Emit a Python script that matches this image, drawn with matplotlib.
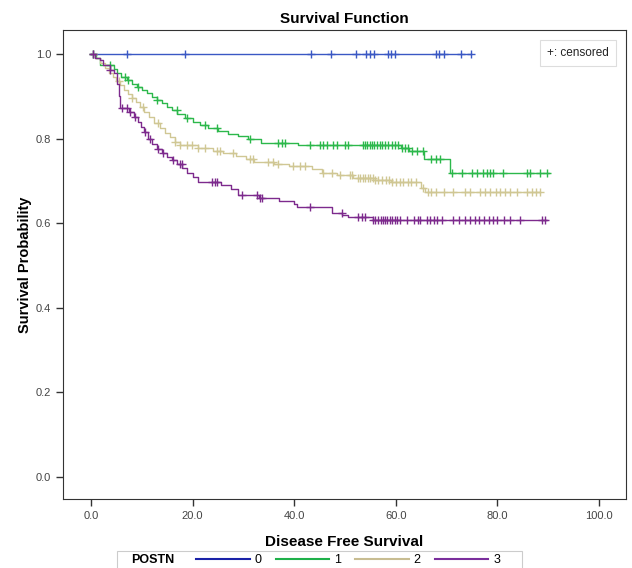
import numpy as np
import matplotlib
matplotlib.use('Agg')
import matplotlib.pyplot as plt
from matplotlib.lines import Line2D
from matplotlib.patches import Rectangle
from matplotlib.ticker import FormatStrFormatter

plt.rcParams['font.family'] = ['Liberation Sans', 'DejaVu Sans']

groups = ['0', '1', '2', '3']
colors = ['#3a58c4', '#2cb84b', '#d0c794', '#7d2a8d']
legend_colors = ['#1a22a8', '#1fb04a', '#c8bd92', '#7a2e9c']

# event times and survival after each step
t0 = []
s0 = []
end0 = 74.8
c0 = [0.5, 7.1, 18.5, 43.3, 47.3, 52.2, 54.2, 54.9, 55.8, 58.4, 59.1, 59.8,
      67.9, 68.5, 69.5, 72.8, 74.8]

t1 = [1.0, 1.8, 4.5, 5.1, 6.0, 7.0, 8.0, 9.0, 10.0, 11.0, 12.0, 13.0, 14.0,
      15.0, 16.0, 17.0, 18.5, 20.0, 21.5, 23.0, 25.0, 27.0, 29.0, 31.0, 33.5,
      40.7, 61.0, 62.5, 65.5, 70.7]
s1 = [0.99, 0.974, 0.965, 0.955, 0.946, 0.938, 0.930, 0.922, 0.915, 0.907,
      0.899, 0.891, 0.884, 0.876, 0.868, 0.858, 0.849, 0.840, 0.832, 0.825,
      0.818, 0.812, 0.806, 0.800, 0.790, 0.784, 0.777, 0.770, 0.752, 0.720]
end1 = 90.2
c1 = [0.5, 3.7, 6.7, 7.3, 9.3, 13.0, 16.9, 18.9, 22.4, 24.8, 31.3, 36.8,
      37.6, 38.2, 43.1, 45.0, 45.7, 46.5, 47.6, 48.4, 50.0, 50.6,
      53.5, 54.0, 54.4, 54.9, 55.3, 55.8, 56.3, 56.8, 57.3, 57.8, 58.5, 59.2,
      59.8, 60.4, 61.2, 61.8, 62.4, 63.2, 64.2, 65.4, 67.0, 68.0, 68.7,
      71.0, 73.0, 75.0, 76.0, 77.2, 78.0, 78.5, 79.1, 81.1, 85.8, 86.4, 88.4,
      89.8]

t2 = [0.8, 1.8, 2.8, 3.6, 4.3, 5.0, 5.7, 6.5, 7.2, 8.0, 8.8, 9.6, 10.5, 11.5,
      12.5, 13.5, 14.5, 15.5, 16.5, 17.5, 21.0, 24.0, 26.0, 28.5, 30.5, 32.0,
      36.0, 39.0, 43.5, 45.5, 48.5, 51.5, 56.0, 59.0, 65.0, 65.8]
s2 = [0.99, 0.978, 0.966, 0.955, 0.946, 0.936, 0.926, 0.915, 0.905, 0.896,
      0.886, 0.876, 0.864, 0.851, 0.838, 0.826, 0.814, 0.803, 0.793, 0.784,
      0.778, 0.772, 0.766, 0.760, 0.752, 0.744, 0.740, 0.735, 0.728, 0.720,
      0.714, 0.707, 0.702, 0.697, 0.684, 0.674]
end2 = 88.4
c2 = [0.5, 5.5, 8.1, 10.2, 13.2, 16.5, 17.5, 18.9, 19.9, 21.1, 22.4, 24.8,
      25.4, 28.0, 31.3, 31.9, 34.8, 35.8, 36.8, 39.8, 41.1, 42.1, 45.7, 47.5,
      49.0, 51.0, 51.4, 52.5, 53.0, 53.5, 54.0, 54.5, 55.0, 55.5, 56.0, 56.5,
      57.2, 58.0, 58.6, 59.3, 60.0, 60.8, 61.5, 62.3, 63.0, 64.0, 65.4, 66.3,
      67.0, 68.0, 69.5, 71.3, 73.6, 74.6, 76.6, 77.5, 78.5, 79.7, 80.5, 81.5,
      82.5, 83.8, 85.8, 86.8, 87.5, 88.4]

t3 = [0.8, 1.8, 2.4, 3.7, 4.6, 5.1, 5.5, 5.8, 7.5, 8.5, 9.2, 9.8, 10.5, 11.2,
      12.0, 13.0, 14.0, 15.0, 16.0, 17.0, 18.0, 19.0, 20.0, 21.0, 25.5, 27.5,
      29.0, 33.0, 37.0, 40.0, 40.6, 47.5, 49.5, 50.5, 55.5]
s3 = [0.99, 0.986, 0.974, 0.962, 0.955, 0.930, 0.900, 0.872, 0.863, 0.852,
      0.840, 0.828, 0.815, 0.800, 0.788, 0.776, 0.766, 0.757, 0.749, 0.740,
      0.730, 0.720, 0.710, 0.698, 0.690, 0.680, 0.667, 0.660, 0.652, 0.646,
      0.638, 0.625, 0.620, 0.615, 0.607]
end3 = 89.8
c3 = [0.5, 3.7, 6.1, 7.1, 7.7, 8.7, 10.6, 11.6, 13.2, 14.2, 16.1, 17.5, 17.9,
      23.8, 24.4, 24.8, 29.7, 32.7, 33.3, 33.7, 43.1, 49.4, 52.5, 53.3, 54.0,
      55.5, 56.0, 56.5, 57.0, 57.4, 57.8, 58.3, 58.8, 59.3, 59.8, 60.3, 60.8,
      62.2, 63.6, 64.4, 64.8, 66.1, 66.8, 67.5, 68.2, 69.1, 71.3, 72.5, 73.6,
      74.6, 75.5, 76.4, 77.4, 78.4, 79.1, 80.0, 81.3, 82.5, 84.4, 88.8, 89.4]

all_t = [t0, t1, t2, t3]
all_s = [s0, s1, s2, s3]
all_end = [end0, end1, end2, end3]
all_c = [c0, c1, c2, c3]

fig = plt.figure(figsize=(6.32, 5.68), dpi=100)
ax = fig.add_axes([63 / 632, 1 - 499 / 568, (626 - 63) / 632, (499 - 30) / 568])

for i in range(4):
    x = np.array([0.0] + all_t[i] + [all_end[i]])
    y = np.array([1.0] + all_s[i] + [all_s[i][-1] if all_s[i] else 1.0])
    ax.plot(x, y, drawstyle='steps-post', color=colors[i], lw=1.0)
    c = np.array(all_c[i])
    idx = np.searchsorted(x, c, side='right') - 1
    ax.plot(c, y[idx], '+', color=colors[i], ms=6, mew=1.0)

ax.set_xlim(-5.5, 105.3)
ax.set_ylim(-0.052, 1.057)
ax.set_xticks([0, 20, 40, 60, 80, 100])
ax.set_yticks([0.0, 0.2, 0.4, 0.6, 0.8, 1.0])
ax.xaxis.set_major_formatter(FormatStrFormatter('%.1f'))
ax.yaxis.set_major_formatter(FormatStrFormatter('%.1f'))
ax.tick_params(direction='out', length=5, width=1, color='#333333',
               labelsize=8, labelcolor='#444444')
for sp in ax.spines.values():
    sp.set_color('#333333')

ax.set_title('Survival Function', fontsize=11, fontweight='bold', pad=5)
ax.set_xlabel('Disease Free Survival', fontsize=11, fontweight='bold', labelpad=10)
ax.set_ylabel('Survival Probability', fontsize=10.5, fontweight='bold', labelpad=3)

ax.text(0.969, 0.964, '+: censored', transform=ax.transAxes, ha='right', va='top',
        fontsize=8.5, color='#222222',
        bbox=dict(boxstyle='square,pad=0.6', fc='white', ec='#dddddd', lw=0.8))

# bottom legend
fig.patches.append(Rectangle((117 / 632, -0.02), (522 - 117) / 632, (0.02 + 1 - 551 / 568),
                             transform=fig.transFigure, fill=False, ec='#cccccc', lw=0.8))
fig.text(131 / 632, 1 - 560 / 568, 'POSTN', fontsize=9, fontweight='bold', va='center')
handles = [Line2D([0], [0], color=legend_colors[i], lw=1.5) for i in range(4)]
fig.legend(handles, groups, ncol=4, loc='center left',
           bbox_to_anchor=(196 / 632, 1 - 560 / 568), frameon=False, fontsize=9,
           handlelength=4.3, handletextpad=0.4, columnspacing=1.1,
           borderpad=0, borderaxespad=0)

fig.savefig('out.png', dpi=100)
